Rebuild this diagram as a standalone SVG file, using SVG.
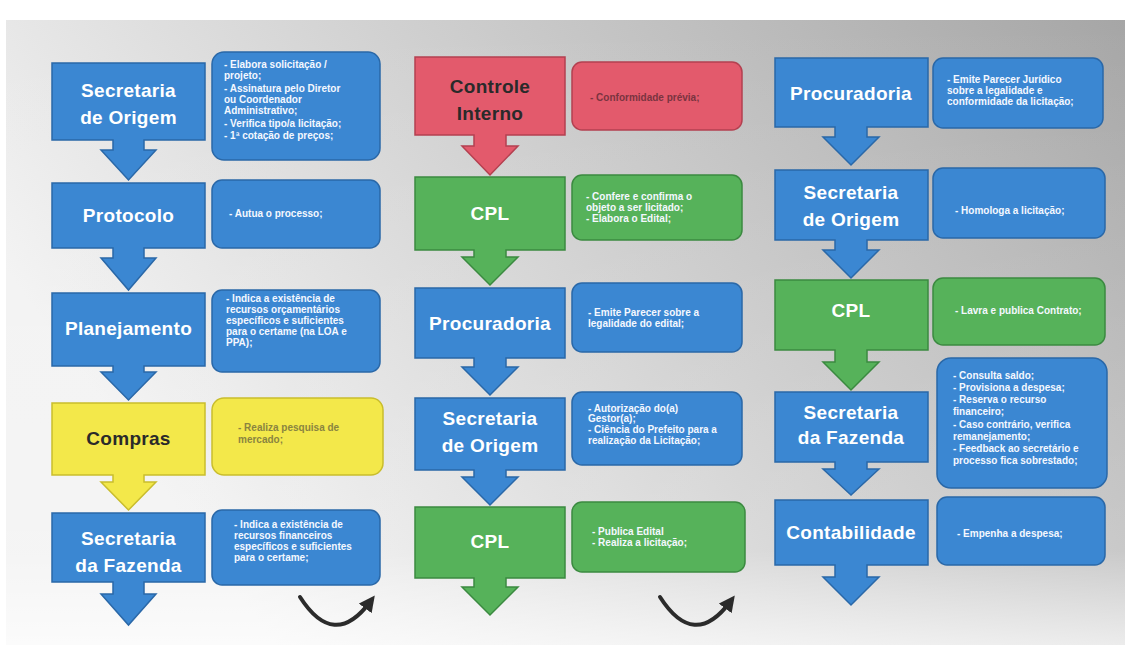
<svg xmlns="http://www.w3.org/2000/svg" width="1129" height="651" viewBox="0 0 1129 651">
<defs>
<linearGradient id="bg" x1="0" y1="0.4" x2="1" y2="0">
<stop offset="0" stop-color="#f2f2f2"/>
<stop offset="0.45" stop-color="#cfcfcf"/>
<stop offset="1" stop-color="#a6a6a6"/>
</linearGradient>
<linearGradient id="fade" x1="0" y1="0" x2="0" y2="1">
<stop offset="0" stop-color="#ffffff" stop-opacity="0"/>
<stop offset="0.85" stop-color="#ffffff" stop-opacity="0.2"/>
<stop offset="1" stop-color="#ffffff" stop-opacity="0.7"/>
</linearGradient>
<marker id="curv" viewBox="0 0 10 10" refX="5" refY="5" markerWidth="4" markerHeight="4" orient="auto">
<path d="M0,0 L10,5 L0,10 z" fill="#2b2b2b"/>
</marker>
</defs>
<style>
.blue{fill:#3b87d2;stroke:#2a68a8;stroke-width:1.5}
.red{fill:#e35a6c;stroke:#b44050;stroke-width:1.5}
.green{fill:#56b25a;stroke:#3b8a40;stroke-width:1.5}
.yellow{fill:#f3e84a;stroke:#c9bd2c;stroke-width:1.5}
.lbl{font-family:"Liberation Sans",Arial,sans-serif;font-size:19px;font-weight:bold;fill:#ffffff;text-anchor:middle;letter-spacing:0.3px}
.dk{fill:#2a2a2a}
.d{font-family:"Liberation Sans",Arial,sans-serif;font-size:10px;font-weight:bold;fill:#f4f8ff}
.dy{fill:#8a8440}
.dr{fill:#7a3440}
.curve{fill:none;stroke:#2b2b2b;stroke-width:4;stroke-linecap:round}
</style>
<rect x="0" y="0" width="1129" height="651" fill="#ffffff"/>
<rect x="6" y="20" width="1119" height="625" fill="url(#bg)"/>
<rect x="6" y="20" width="1119" height="625" fill="url(#fade)"/>

<!-- Column 1 -->
<g id="c1n1">
<path class="blue" d="M52,63 H205 V140 H144 V150 H156 L128.5,180 L101,150 H113 V140 H52 Z"/>
<text class="lbl" x="128.5" y="97">Secretaria</text>
<text class="lbl" x="128.5" y="124">de Origem</text>
</g>
<g id="c1d1">
<rect class="blue" x="212" y="52" width="168" height="108" rx="12"/>
<text class="d" x="224" y="68">- Elabora solicitação /</text>
<text class="d" x="224" y="79">projeto;</text>
<text class="d" x="224" y="92">- Assinatura pelo Diretor</text>
<text class="d" x="224" y="103">ou Coordenador</text>
<text class="d" x="224" y="114">Administrativo;</text>
<text class="d" x="224" y="127">- Verifica tipo/a licitação;</text>
<text class="d" x="224" y="139">- 1ª cotação de preços;</text>
</g>
<g id="c1n2">
<path class="blue" d="M52,183 H205 V248 H144 V258 H156 L128.5,290 L101,258 H113 V248 H52 Z"/>
<text class="lbl" x="128.5" y="222">Protocolo</text>
</g>
<g id="c1d2">
<rect class="blue" x="212" y="180" width="168" height="68" rx="10"/>
<text class="d" x="229" y="217">- Autua o processo;</text>
</g>
<g id="c1n3">
<path class="blue" d="M52,293 H205 V366 H144 V372 H156 L128.5,400 L101,372 H113 V366 H52 Z"/>
<text class="lbl" x="128.5" y="335">Planejamento</text>
</g>
<g id="c1d3">
<rect class="blue" x="212" y="290" width="168" height="82" rx="10"/>
<text class="d" x="226" y="302">- Indica a existência  de</text>
<text class="d" x="226" y="313">recursos orçamentários</text>
<text class="d" x="226" y="324">específicos e suficientes</text>
<text class="d" x="226" y="335">para o certame (na LOA e</text>
<text class="d" x="226" y="346">PPA);</text>
</g>
<g id="c1n4">
<path class="yellow" d="M52,403 H205 V475 H144 V482 H156 L128.5,510 L101,482 H113 V475 H52 Z"/>
<text class="lbl dk" x="128.5" y="445">Compras</text>
</g>
<g id="c1d4">
<rect class="yellow" x="212" y="398" width="171" height="77" rx="12"/>
<text class="d dy" x="238" y="431">- Realiza pesquisa de</text>
<text class="d dy" x="238" y="443">mercado;</text>
</g>
<g id="c1n5">
<path class="blue" d="M52,513 H205 V582 H144 V594 H156 L128.5,625 L101,594 H113 V582 H52 Z"/>
<text class="lbl" x="128.5" y="545">Secretaria</text>
<text class="lbl" x="128.5" y="572">da Fazenda</text>
</g>
<g id="c1d5">
<rect class="blue" x="212" y="510" width="168" height="75" rx="10"/>
<text class="d" x="234" y="528">- Indica a existência  de</text>
<text class="d" x="234" y="539">recursos financeiros</text>
<text class="d" x="234" y="550">específicos e suficientes</text>
<text class="d" x="234" y="561">para o certame;</text>
</g>

<!-- Column 2 -->
<g id="c2n1">
<path class="red" d="M415,57 H565 V135 H506 V146 H518 L490,175 L462,146 H474 V135 H415 Z"/>
<text class="lbl dk" x="490" y="93">Controle</text>
<text class="lbl dk" x="490" y="120">Interno</text>
</g>
<g id="c2d1">
<rect class="red" x="572" y="62" width="170" height="68" rx="10"/>
<text class="d dr" x="590" y="101">- Conformidade prévia;</text>
</g>
<g id="c2n2">
<path class="green" d="M415,177 H565 V250 H506 V257 H518 L490,285 L462,257 H474 V250 H415 Z"/>
<text class="lbl" x="490" y="220">CPL</text>
</g>
<g id="c2d2">
<rect class="green" x="572" y="175" width="170" height="65" rx="10"/>
<text class="d" x="586" y="200">- Confere e confirma o</text>
<text class="d" x="586" y="211">objeto a ser licitado;</text>
<text class="d" x="586" y="222">- Elabora o Edital;</text>
</g>
<g id="c2n3">
<path class="blue" d="M415,288 H565 V358 H506 V367 H518 L490,395 L462,367 H474 V358 H415 Z"/>
<text class="lbl" x="490" y="330">Procuradoria</text>
</g>
<g id="c2d3">
<rect class="blue" x="572" y="283" width="170" height="69" rx="10"/>
<text class="d" x="588" y="316">- Emite Parecer sobre a</text>
<text class="d" x="588" y="327">legalidade do edital;</text>
</g>
<g id="c2n4">
<path class="blue" d="M415,398 H565 V470 H506 V477 H518 L490,505 L462,477 H474 V470 H415 Z"/>
<text class="lbl" x="490" y="425">Secretaria</text>
<text class="lbl" x="490" y="452">de Origem</text>
</g>
<g id="c2d4">
<rect class="blue" x="572" y="392" width="170" height="73" rx="10"/>
<text class="d" x="588" y="412">- Autorização do(a)</text>
<text class="d" x="588" y="422">Gestor(a);</text>
<text class="d" x="588" y="433">- Ciência do Prefeito para a</text>
<text class="d" x="588" y="444">realização da Licitação;</text>
</g>
<g id="c2n5">
<path class="green" d="M415,507 H565 V578 H506 V587 H518 L490,615 L462,587 H474 V578 H415 Z"/>
<text class="lbl" x="490" y="548">CPL</text>
</g>
<g id="c2d5">
<rect class="green" x="572" y="502" width="173" height="70" rx="10"/>
<text class="d" x="592" y="535">- Publica Edital</text>
<text class="d" x="592" y="546">- Realiza a licitação;</text>
</g>

<!-- Column 3 -->
<g id="c3n1">
<path class="blue" d="M775,58 H928 V127 H867 V137 H879 L851,165 L823,137 H835 V127 H775 Z"/>
<text class="lbl" x="851" y="100">Procuradoria</text>
</g>
<g id="c3d1">
<rect class="blue" x="933" y="58" width="170" height="70" rx="10"/>
<text class="d" x="947" y="83">- Emite Parecer Jurídico</text>
<text class="d" x="947" y="94">sobre a legalidade e</text>
<text class="d" x="947" y="105">conformidade da licitação;</text>
</g>
<g id="c3n2">
<path class="blue" d="M775,170 H928 V240 H867 V250 H879 L851,278 L823,250 H835 V240 H775 Z"/>
<text class="lbl" x="851" y="199">Secretaria</text>
<text class="lbl" x="851" y="226">de Origem</text>
</g>
<g id="c3d2">
<rect class="blue" x="933" y="168" width="172" height="70" rx="10"/>
<text class="d" x="955" y="214">- Homologa a licitação;</text>
</g>
<g id="c3n3">
<path class="green" d="M775,280 H928 V350 H867 V362 H879 L851,390 L823,362 H835 V350 H775 Z"/>
<text class="lbl" x="851" y="317">CPL</text>
</g>
<g id="c3d3">
<rect class="green" x="933" y="278" width="172" height="67" rx="10"/>
<text class="d" x="955" y="314">- Lavra e publica Contrato;</text>
</g>
<g id="c3n4">
<path class="blue" d="M775,392 H928 V462 H867 V469 H879 L851,495 L823,469 H835 V462 H775 Z"/>
<text class="lbl" x="851" y="419">Secretaria</text>
<text class="lbl" x="851" y="444">da Fazenda</text>
</g>
<g id="c3d4">
<rect class="blue" x="937" y="358" width="170" height="130" rx="14"/>
<text class="d" x="953" y="379">- Consulta saldo;</text>
<text class="d" x="953" y="391">- Provisiona a despesa;</text>
<text class="d" x="953" y="403">- Reserva o recurso</text>
<text class="d" x="953" y="415">financeiro;</text>
<text class="d" x="953" y="428">- Caso contrário, verifica</text>
<text class="d" x="953" y="440">remanejamento;</text>
<text class="d" x="953" y="452">- Feedback ao secretário e</text>
<text class="d" x="953" y="464">processo fica sobrestado;</text>
</g>
<g id="c3n5">
<path class="blue" d="M775,500 H928 V565 H867 V577 H879 L851,605 L823,577 H835 V565 H775 Z"/>
<text class="lbl" x="851" y="539">Contabilidade</text>
</g>
<g id="c3d5">
<rect class="blue" x="937" y="497" width="168" height="68" rx="10"/>
<text class="d" x="957" y="537">- Empenha a despesa;</text>
</g>

<!-- connectors -->
<g id="connectors">
<path class="curve" d="M300,597 Q334,650 370,602" marker-end="url(#curv)"/>
<path class="curve" d="M660,597 Q694,650 730,602" marker-end="url(#curv)"/>
</g>
</svg>
